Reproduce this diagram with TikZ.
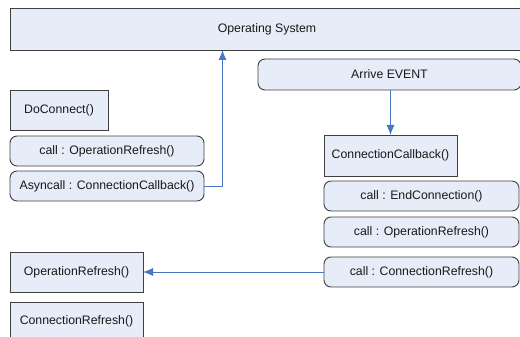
\documentclass[tikz,border=0pt]{standalone}
\usepackage{fontspec}
\setmainfont{Liberation Sans}
\usetikzlibrary{arrows.meta}
\definecolor{boxfill}{RGB}{230,236,248}
\definecolor{boxline}{RGB}{64,64,64}
\definecolor{arrowblue}{RGB}{72,118,196}
\tikzset{
  box/.style={draw=boxline, fill=boxfill, line width=0.9pt, inner sep=0pt, outer sep=0pt,
    font=\fontsize{12.3}{14}\selectfont, text=black!90},
  rbox/.style={box, rounded corners=7pt},
  arr/.style={draw=arrowblue, line width=0.9pt, -{Latex[length=10pt,width=8pt]}},
  plain/.style={draw=arrowblue, line width=0.9pt}
}
\begin{document}
\begin{tikzpicture}[x=1pt,y=-1pt]
\useasboundingbox (0,0) rectangle (520,337);
\clip (0,0) rectangle (520,337);
\node[box, minimum width=514pt, minimum height=42pt] (os) at (267,29) {Operating System};
\node[rbox, minimum width=263pt, minimum height=31pt] (arrive) at (389.5,74.5) {Arrive EVENT};
\node[box, minimum width=98pt, minimum height=40pt] (doconn) at (59,110) {DoConnect()};
\node[rbox, minimum width=194pt, minimum height=30pt] (callop) at (107,151) {call : OperationRefresh()};
\node[rbox, minimum width=194pt, minimum height=30pt] (async) at (107,186) {Asyncall : ConnectionCallback()};
\node[box, minimum width=133pt, minimum height=40pt] (opref) at (76.5,272) {OperationRefresh()};
\node[box, minimum width=133pt, minimum height=43pt] (conref) at (76.5,323.5) {};
\node[font=\fontsize{12.3}{14}\selectfont, text=black!90, anchor=center] (conreft) at (76.5,321) {ConnectionRefresh()};
\node[box, minimum width=133pt, minimum height=41pt] (cb) at (390.5,155.5) {ConnectionCallback()};
\node[rbox, minimum width=195pt, minimum height=30pt] (endc) at (421.5,196) {call : EndConnection()};
\node[rbox, minimum width=195pt, minimum height=30pt] (callop2) at (421.5,232) {call : OperationRefresh()};
\node[rbox, minimum width=195pt, minimum height=30pt] (callcr) at (421.5,272) {call : ConnectionRefresh()};
\coordinate (bend) at (222.5,186);
\draw[plain] (async.east) -- (bend);
\draw[arr] (bend) -- (bend |- os.south);
\draw[arr] (cb.north |- arrive.south) -- (cb.north);
\draw[arr] (callcr.west) -- (opref.east);
\end{tikzpicture}
\end{document}
